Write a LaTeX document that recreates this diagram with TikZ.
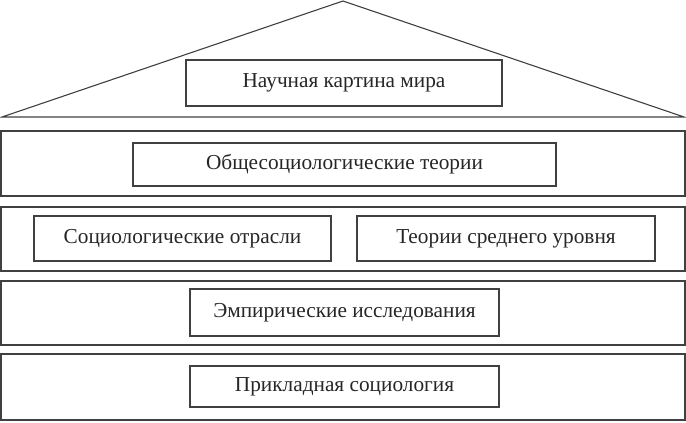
\documentclass[tikz,border=0pt]{standalone}
\usepackage{fontspec}
\setmainfont{Liberation Serif}
\begin{document}
\begin{tikzpicture}[x=1pt,y=-1pt,line width=1.1pt,draw=black!75,
  bx/.style={draw=black!75,line width=1.1pt},
  lbl/.style={font=\fontsize{21.3}{24}\selectfont,text=black!85}]
\useasboundingbox (0,0) rectangle (686,423);
\draw[bx] (2,117) -- (343,1) -- (684,117) -- cycle;
\draw[bx] (1,131) rectangle (685,196);
\draw[bx] (1,207) rectangle (685,271);
\draw[bx] (1,281) rectangle (685,345);
\draw[bx] (1,354) rectangle (685,420);
\draw[bx] (186,60) rectangle (502,106); \node[lbl] (a) at (344,83) {Научная картина мира};
\draw[bx] (133,143) rectangle (556,186); \node[lbl] (b) at (344.5,164.5) {Общесоциологические теории};
\draw[bx] (34,216) rectangle (331,261); \node[lbl] (c) at (182.5,238.5) {Социологические отрасли};
\draw[bx] (357,216) rectangle (655,261); \node[lbl] (d) at (506,238.5) {Теории среднего уровня};
\draw[bx] (190,289) rectangle (499,336); \node[lbl] (e) at (344.5,312.5) {Эмпирические исследования};
\draw[bx] (190,366) rectangle (499,407); \node[lbl] (f) at (344.5,386.5) {Прикладная социология};
\end{tikzpicture}
\end{document}
